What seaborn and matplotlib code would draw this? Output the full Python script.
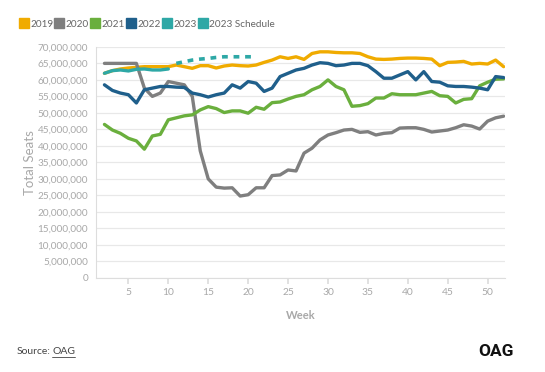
import matplotlib
matplotlib.use("Agg")
import matplotlib.pyplot as plt
from matplotlib.lines import Line2D
from matplotlib.ticker import FuncFormatter, MultipleLocator
import seaborn as sns
import pandas as pd
import numpy as np

weeks = list(range(2, 53))

s2019 = [62.0, 62.8, 63.3, 63.6, 63.8, 64.0, 64.0, 64.0, 64.0, 64.5, 64.0, 63.5, 64.3, 64.3,
         63.6, 64.2, 64.5, 64.3, 64.2, 64.5, 65.3, 66.0, 67.0, 66.5, 67.0, 66.2, 68.0, 68.5,
         68.5, 68.3, 68.2, 68.2, 68.0, 67.0, 66.3, 66.2, 66.3, 66.5, 66.6, 66.6, 66.5, 66.3,
         64.3, 65.3, 65.4, 65.6, 64.8, 65.0, 64.8, 66.0, 64.0]
s2020 = [65.0, 65.0, 65.0, 65.0, 65.0, 57.5, 55.0, 56.0, 59.5, 59.0, 58.5, 55.0, 38.5, 30.0,
         27.5, 27.2, 27.3, 24.8, 25.2, 27.3, 27.3, 31.0, 31.2, 32.7, 32.4, 37.8, 39.3, 41.8,
         43.3, 44.0, 44.8, 45.0, 44.1, 44.3, 43.3, 43.8, 44.0, 45.4, 45.5, 45.5, 45.0, 44.2,
         44.5, 44.8, 45.5, 46.4, 46.0, 45.1, 47.5, 48.5, 49.0]
s2021 = [46.5, 44.8, 43.8, 42.3, 41.5, 39.0, 43.0, 43.5, 47.9, 48.5, 49.1, 49.4, 50.9, 51.9,
         51.3, 50.1, 50.6, 50.6, 49.9, 51.7, 51.1, 53.1, 53.3, 54.2, 55.0, 55.5, 57.0, 58.0,
         60.0, 58.0, 57.0, 52.0, 52.2, 52.8, 54.5, 54.5, 55.8, 55.5, 55.5, 55.5, 56.0, 56.5,
         55.2, 55.0, 53.0, 54.1, 54.3, 58.2, 59.3, 60.2, 60.3]
s2022 = [58.5, 56.8, 56.0, 55.5, 53.0, 57.0, 57.5, 58.0, 58.0, 57.8, 57.7, 56.0, 55.5, 54.8,
         55.5, 56.0, 58.5, 57.5, 59.5, 59.0, 56.5, 57.5, 61.0, 62.0, 63.0, 63.5, 64.5, 65.2,
         65.0, 64.3, 64.5, 65.0, 65.0, 64.3, 62.5, 60.5, 60.5, 61.5, 62.5, 60.0, 62.5, 59.5,
         59.3, 58.2, 58.0, 58.0, 57.8, 57.5, 57.0, 61.0, 60.7]
weeks_2023 = list(range(2, 11))
s2023 = [62.0, 62.8, 63.0, 62.7, 63.2, 63.3, 63.0, 63.0, 63.3]
weeks_sched = list(range(11, 22))
s2023_sched = [65.0, 65.5, 66.0, 66.3, 66.5, 66.8, 67.0, 67.0, 67.0, 67.0, 67.0]

series_names = ["2019", "2020", "2021", "2022", "2023", "2023 Schedule"]
colors = ["#F0AB00", "#7F7F7F", "#6AAF3D", "#1F5F8B", "#2EA8A6", "#2EA8A6"]

rows = []
for name, wk, vals in [("2019", weeks, s2019), ("2020", weeks, s2020), ("2021", weeks, s2021),
                       ("2022", weeks, s2022), ("2023", weeks_2023, s2023),
                       ("2023 Schedule", weeks_sched, s2023_sched)]:
    for w, v in zip(wk, vals):
        rows.append({"Week": w, "Seats": v * 1e6, "Series": name})
df = pd.DataFrame(rows)

sns.set_theme(style="white")
plt.rcParams['font.family'] = ['Lato', 'DejaVu Sans']

fig = plt.figure(figsize=(5.45, 3.72), dpi=100)
ax = fig.add_axes([0.177, 0.253, 0.75, 0.621])

pal = dict(zip(series_names, colors))
solid = df[df["Series"] != "2023 Schedule"]
sns.lineplot(data=solid, x="Week", y="Seats", hue="Series", palette=pal, linewidth=2.4,
             ax=ax, legend=False)
sched = df[df["Series"] == "2023 Schedule"]
sns.lineplot(data=sched, x="Week", y="Seats", color=pal["2023 Schedule"], linewidth=2.6,
             ax=ax, legend=False, linestyle=(0, (1.6, 1.6)))

ax.set_xlim(1, 52.2)
ax.set_ylim(0, 70e6)
ax.yaxis.set_major_locator(MultipleLocator(5e6))
ax.yaxis.set_major_formatter(FuncFormatter(lambda v, p: f"{int(v):,}"))
ax.set_xticks(range(5, 51, 5))
ax.grid(axis="y", color="#E8E8E8", linewidth=0.9)
ax.grid(axis="x", visible=False)
for side in ["top", "right"]:
    ax.spines[side].set_visible(False)
for side in ["left", "bottom"]:
    ax.spines[side].set_color("#DDDDDD")
    ax.spines[side].set_linewidth(0.8)
ax.tick_params(axis="y", length=0, labelsize=7.2, labelcolor="#A8A8A8", pad=6)
ax.tick_params(axis="x", length=4, color="#DDDDDD", labelsize=7.4, labelcolor="#A8A8A8", pad=3,
               bottom=True)
ax.set_ylabel("Total Seats", fontsize=9.5, color="#A8A8A8", labelpad=1)
ax.set_xlabel("Week", fontsize=8, color="#A8A8A8", fontweight="bold", labelpad=10)

handles = [Line2D([0], [0], marker="s", linestyle="none", markersize=7.5,
                  markerfacecolor=c, markeredgecolor=c) for c in colors]
fig.legend(handles, series_names, loc="center left", bbox_to_anchor=(0.018, 0.935), ncol=6,
           frameon=False, fontsize=7.2, handletextpad=0.15, columnspacing=0.1,
           handlelength=1.0, labelcolor="#666666")

fig.canvas.draw()
renderer = fig.canvas.get_renderer()
st = fig.text(0.031, 0.055, "Source:", fontsize=7.5, color="#444444", ha="left", va="center")
bb = st.get_window_extent(renderer=renderer).transformed(fig.transFigure.inverted())
x0 = bb.x1 + 0.003
ot = fig.text(x0, 0.055, "OAG", fontsize=7.5, color="#444444", ha="left", va="center")
bb2 = ot.get_window_extent(renderer=renderer).transformed(fig.transFigure.inverted())
fig.add_artist(Line2D([bb2.x0, bb2.x1], [bb2.y0 - 0.003, bb2.y0 - 0.003], color="#444444",
                      linewidth=0.6))
fig.text(0.943, 0.055, "OAG", fontsize=12.5, color="#111111", ha="right", va="center",
         fontweight="bold", family=["Liberation Sans Narrow", "Roboto", "DejaVu Sans"])

fig.savefig("out.png", dpi=100)
